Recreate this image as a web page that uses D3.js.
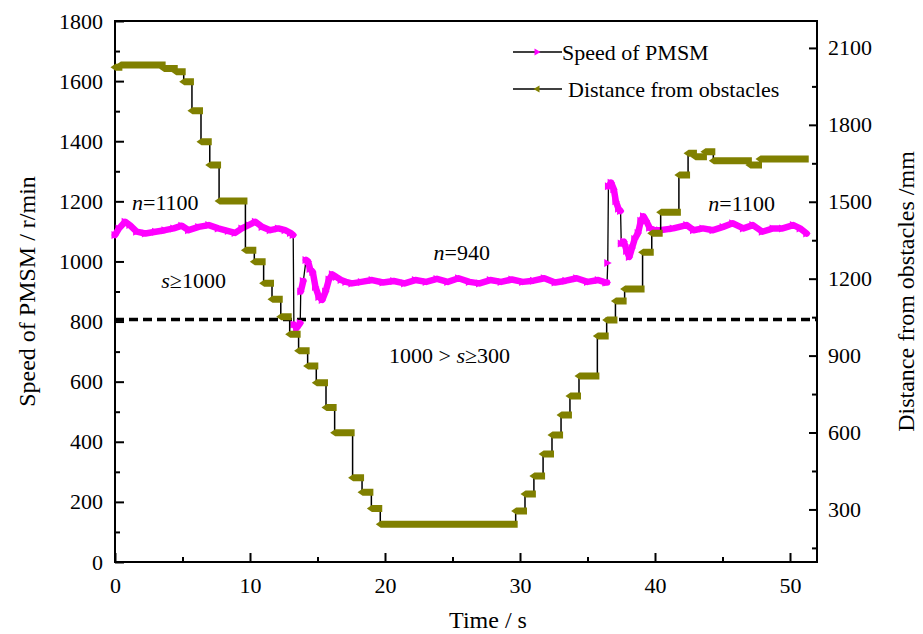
<!DOCTYPE html>
<html>
<head>
<meta charset="utf-8">
<script src="https://cdn.jsdelivr.net/npm/d3@7"></script>
<style>
  body { margin: 0; background: #fff; }
  svg text { font-family: "Liberation Serif", "Times New Roman", serif; fill: #000; }
</style>
</head>
<body>
<svg id="chart" width="923" height="634"></svg>
<script>
// ── Data ──
const timeTicks = [0, 10, 20, 30, 40, 50];
const timeMinor = [5, 15, 25, 35, 45];
const speedTicks = [0, 200, 400, 600, 800, 1000, 1200, 1400, 1600, 1800];
const speedMinor = [100, 300, 500, 700, 900, 1100, 1300, 1500, 1700];
const distTicks = [300, 600, 900, 1200, 1500, 1800, 2100];
const distMinor = [150, 450, 750, 1050, 1350, 1650, 1950];

// speed of PMSM, [time s, r/min]
const speedData = [
  [0.0, 1088], [0.3, 1110], [0.75, 1132], [1.1, 1121], [1.6, 1099], [2.25, 1093],
  [3.0, 1099], [3.7, 1104], [4.35, 1110], [4.95, 1119], [5.45, 1104], [6.2, 1115],
  [6.95, 1121], [7.65, 1110], [8.4, 1101], [8.9, 1095], [9.4, 1110], [9.9, 1121],
  [10.4, 1132], [10.9, 1115], [11.5, 1104], [12.1, 1110], [12.6, 1104], [13.0, 1095],
  [13.2, 1088],
  [13.25, 790], [13.45, 778], [13.72, 795],
  [13.76, 900], [13.95, 935], [14.15, 1005], [14.3, 1000], [14.45, 975], [14.65, 965],
  [14.85, 915], [15.1, 882], [15.35, 872], [15.6, 900], [15.85, 940], [16.1, 957],
  [16.4, 948], [16.75, 938], [17.1, 932], [17.55, 927], [18.25, 932], [19.05, 938],
  [19.85, 930], [20.65, 935], [21.45, 927], [22.25, 938], [23.05, 932], [23.85, 942],
  [24.65, 932], [25.45, 944], [26.25, 932], [27.0, 927], [27.8, 938], [28.6, 932],
  [29.4, 940], [30.2, 932], [31.0, 936], [31.8, 944], [32.6, 930], [33.4, 936],
  [34.2, 944], [35.0, 932], [35.8, 938], [36.35, 930], [36.45, 930],
  [36.5, 995],
  [36.55, 1250], [36.75, 1262], [36.95, 1240], [37.1, 1200], [37.3, 1175], [37.45, 1168],
  [37.5, 1060], [37.7, 1066], [37.9, 1035], [38.1, 1015], [38.3, 1045], [38.5, 1075],
  [38.75, 1095], [38.95, 1135], [39.15, 1150], [39.35, 1135], [39.6, 1112], [39.95, 1104],
  [40.35, 1104], [41.35, 1110], [42.35, 1121], [42.85, 1104], [43.55, 1110], [44.3, 1104],
  [45.05, 1115], [45.75, 1127], [46.55, 1110], [47.25, 1121], [47.95, 1099], [48.75, 1110],
  [49.45, 1110], [50.25, 1121], [50.75, 1110], [51.24, 1093]
];

// distance from obstacles, step levels [start time s, mm]
const distanceSteps = [
  [0, 2025], [0.4, 2033], [3.6, 2020], [4.5, 2007], [5.09, 1968], [5.7, 1855],
  [6.37, 1734], [7.02, 1643], [7.71, 1503], [9.66, 1311], [10.32, 1266], [11.01, 1182],
  [11.63, 1120], [12.28, 1052], [12.94, 983], [13.6, 919], [14.27, 859], [14.91, 794],
  [15.63, 698], [16.27, 599], [17.6, 424], [18.3, 367], [18.99, 304], [19.65, 242],
  [29.68, 294], [30.37, 360], [31.03, 430], [31.71, 516], [32.37, 590], [33.04, 668],
  [33.7, 742], [34.37, 820], [35.73, 976], [36.42, 1039], [37.07, 1113], [37.75, 1160],
  [39.08, 1303], [39.76, 1377], [40.42, 1459], [41.77, 1604], [42.45, 1689], [42.96, 1676],
  [43.7, 1695], [44.32, 1660], [47.03, 1643], [47.78, 1667]
];
const distanceEnd = 51.24;

const thresholdSpeed = 807;

const notes = [
  { t: 1.26, v: 1171, parts: [["n", true], ["=1100", false]] },
  { t: 3.43, v: 911, parts: [["s", true], ["≥1000", false]] },
  { t: 23.6, v: 1005, parts: [["n", true], ["=940", false]] },
  { t: 20.3, v: 663, parts: [["1000 > ", false], ["s", true], ["≥300", false]] },
  { t: 43.95, v: 1168, parts: [["n", true], ["=1100", false]] }
];

const C = { speed: "#ff00ff", dist: "#808000" };
const SERIF = '"Liberation Serif", "Times New Roman", serif';

// ── Scales ──
const L = 115, R = 817, T = 21, B = 562;
const x = d3.scaleLinear().domain([0, 52]).range([L, R]);
const yL = d3.scaleLinear().domain([0, 1800]).range([B, T]);
const yR = d3.scaleLinear().domain([95, 2205]).range([B, T]);

const svg = d3.select("#chart");

// ── Axes ──
function styleAxis(g) {
  g.attr("font-family", SERIF);
  g.select(".domain").remove();
  g.selectAll("line").attr("stroke", "#000").attr("stroke-width", 2);
  g.selectAll("text")
    .attr("font-size", "22px")
    .attr("fill", "#000")
    .style("font-family", SERIF);
}

const fmt = d3.format("d");

svg.append("g").attr("transform", `translate(0,${B})`)
  .call(d3.axisBottom(x).tickValues(timeTicks).tickSize(-9).tickPadding(15).tickFormat(fmt))
  .call(styleAxis);
svg.append("g").attr("transform", `translate(0,${B})`)
  .call(d3.axisBottom(x).tickValues(timeMinor).tickSize(-5).tickFormat(""))
  .call(styleAxis);

svg.append("g").attr("transform", `translate(${L},0)`)
  .call(d3.axisLeft(yL).tickValues(speedTicks).tickSize(-9).tickPadding(12).tickFormat(fmt))
  .call(styleAxis);
svg.append("g").attr("transform", `translate(${L},0)`)
  .call(d3.axisLeft(yL).tickValues(speedMinor).tickSize(-5).tickFormat(""))
  .call(styleAxis);

svg.append("g").attr("transform", `translate(${R},0)`)
  .call(d3.axisRight(yR).tickValues(distTicks).tickSize(-8).tickPadding(11).tickFormat(fmt))
  .call(styleAxis);
svg.append("g").attr("transform", `translate(${R},0)`)
  .call(d3.axisRight(yR).tickValues(distMinor).tickSize(-5).tickFormat(""))
  .call(styleAxis);

// frame
svg.append("rect")
  .attr("x", L).attr("y", T).attr("width", R - L).attr("height", B - T)
  .attr("fill", "none").attr("stroke", "#000").attr("stroke-width", 2);

// ── Threshold ──
svg.append("line")
  .attr("x1", L).attr("x2", R)
  .attr("y1", yL(thresholdSpeed)).attr("y2", yL(thresholdSpeed))
  .attr("stroke", "#000").attr("stroke-width", 3.5)
  .attr("stroke-dasharray", "9,5");

// ── Speed series ──
const plot = svg.append("g");
plot.append("path")
  .datum(speedData)
  .attr("d", d3.line().x(d => x(d[0])).y(d => yL(d[1])))
  .attr("fill", "none").attr("stroke", "#000").attr("stroke-width", 1.3);

// split the magenta ribbon where the signal jumps
const segs = [];
speedData.forEach((d, i) => {
  if (i === 0 || Math.abs(d[1] - speedData[i - 1][1]) > 60) segs.push([]);
  segs[segs.length - 1].push(d);
});
segs.filter(s => s.length > 1).forEach(s => {
  plot.append("path")
    .datum(s)
    .attr("d", d3.line().x(d => x(d[0])).y(d => yL(d[1])))
    .attr("fill", "none").attr("stroke", C.speed)
    .attr("stroke-width", 6.5).attr("stroke-linejoin", "round").attr("stroke-linecap", "round");
});
plot.selectAll(".sp-mark")
  .data(speedData)
  .join("path")
  .attr("class", "sp-mark")
  .attr("d", d => {
    const cx = x(d[0]), cy = yL(d[1]);
    return `M${cx - 3.5},${cy - 4}L${cx + 4},${cy}L${cx - 3.5},${cy + 4}Z`;
  })
  .attr("fill", C.speed);

// ── Distance series ──
const distLine = distanceSteps.concat([[distanceEnd, distanceSteps[distanceSteps.length - 1][1]]]);
plot.append("path")
  .datum(distLine)
  .attr("d", d3.line().x(d => x(d[0])).y(d => yR(d[1])).curve(d3.curveStepAfter))
  .attr("fill", "none").attr("stroke", "#000").attr("stroke-width", 1.5);

plot.selectAll(".run")
  .data(distanceSteps)
  .join("path")
  .attr("class", "run")
  .attr("d", (d, i) => {
    const x0 = x(d[0]);
    const x1 = x(i + 1 < distanceSteps.length ? distanceSteps[i + 1][0] : distanceEnd);
    const y = yR(d[1]);
    return `M${x0 - 4.5},${y}L${x0 + 0.5},${y - 3.5}L${x1 + 2},${y - 3.5}L${x1 + 2},${y + 3.5}L${x0 + 0.5},${y + 3.5}Z`;
  })
  .attr("fill", C.dist);

// ── Annotations ──
notes.forEach(n => {
  const t = svg.append("text")
    .attr("x", x(n.t)).attr("y", yL(n.v))
    .attr("font-size", "22px");
  n.parts.forEach(([s, it]) => {
    t.append("tspan").attr("font-style", it ? "italic" : "normal").text(s);
  });
});

// ── Legend ──
const legend = [
  { label: "Speed of PMSM", color: C.speed, dir: 1, y: 52, tx: 562 },
  { label: "Distance from obstacles", color: C.dist, dir: -1, y: 89, tx: 568 }
];
legend.forEach(l => {
  svg.append("line")
    .attr("x1", 513).attr("x2", 562).attr("y1", l.y).attr("y2", l.y)
    .attr("stroke", "#000").attr("stroke-width", 1.3);
  const cx = 537;
  svg.append("path")
    .attr("d", l.dir > 0
      ? `M${cx - 2.5},${l.y - 3.5}L${cx + 3.5},${l.y}L${cx - 2.5},${l.y + 3.5}Z`
      : `M${cx + 2.5},${l.y - 3.5}L${cx - 3.5},${l.y}L${cx + 2.5},${l.y + 3.5}Z`)
    .attr("fill", l.color);
  svg.append("text")
    .attr("x", l.tx).attr("y", l.y + 7.5)
    .attr("font-size", "22px")
    .text(l.label);
});

// ── Axis titles ──
svg.append("text")
  .attr("x", 488).attr("y", 628)
  .attr("text-anchor", "middle").attr("font-size", "24px")
  .text("Time / s");

svg.append("text")
  .attr("transform", `translate(35,${(T + B) / 2}) rotate(-90)`)
  .attr("text-anchor", "middle").attr("font-size", "24px")
  .text("Speed of PMSM / r/min");

svg.append("text")
  .attr("transform", `translate(914,${(T + B) / 2}) rotate(-90)`)
  .attr("text-anchor", "middle").attr("font-size", "24px")
  .text("Distance from obstacles /mm");
</script>
</body>
</html>
